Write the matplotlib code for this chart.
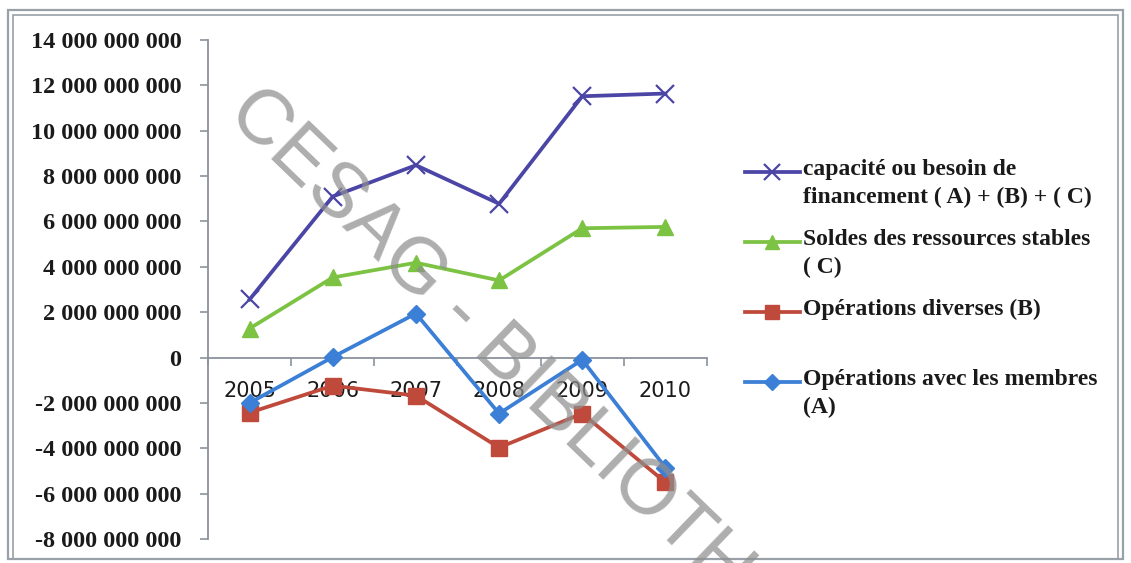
import matplotlib
matplotlib.use("Agg")
import matplotlib.pyplot as plt
import matplotlib.patches as mpatches
from matplotlib.lines import Line2D
from matplotlib.ticker import FuncFormatter, FixedLocator
import numpy as np

years = ["2005", "2006", "2007", "2008", "2009", "2010"]

capacite = [2.56e9, 7.10e9, 8.48e9, 6.78e9, 11.52e9, 11.64e9]
ressources = [1.28e9, 3.53e9, 4.18e9, 3.40e9, 5.70e9, 5.76e9]
diverses = [-2.43e9, -1.24e9, -1.68e9, -3.97e9, -2.47e9, -5.50e9]
membres = [-2.00e9, 0.02e9, 1.94e9, -2.47e9, -0.10e9, -4.85e9]

labels = [
    "capacité ou besoin de\nfinancement ( A) + (B) + ( C)",
    "Soldes des ressources stables\n( C)",
    "Opérations diverses (B)",
    "Opérations avec les membres\n(A)",
]

PURPLE = "#4b45a6"
GREEN = "#7cc243"
RED = "#bf4a3c"
BLUE = "#3b7fd6"
AXIS = "#8a929c"
TEXT = "#1a1a1a"

series = [
    (capacite, PURPLE, "x", 13, 1.6),
    (ressources, GREEN, "^", 12, 0),
    (diverses, RED, "s", 12, 0),
    (membres, BLUE, "D", 9, 0),
]

fig = plt.figure(figsize=(11.31, 5.63), dpi=100, facecolor="white")
ax = fig.add_axes([208 / 1131, 24 / 563, 499 / 1131, 499 / 563])

x = np.arange(len(years))
for vals, col, mk, ms, mew in series:
    ax.plot(x, vals, color=col, linewidth=2.7, marker=mk, markersize=ms,
            markeredgewidth=mew if mew else 1, markeredgecolor=col,
            markerfacecolor=col, solid_joinstyle="round", zorder=3)

ax.set_xlim(-0.5, len(years) - 0.5)
ax.set_ylim(-8e9, 14e9)
ax.set_yticks(np.arange(-8e9, 14.1e9, 2e9))
ax.yaxis.set_major_formatter(FuncFormatter(
    lambda v, p: f"{v:,.0f}".replace(",", " ")))

# category boundaries carry the tick marks, centres carry the labels
ax.xaxis.set_major_locator(FixedLocator(np.arange(-0.5, len(years), 1.0)))
ax.xaxis.set_minor_locator(FixedLocator(x))
ax.set_xticklabels([""] * (len(years) + 1))
ax.set_xticklabels(years, minor=True)
ax.tick_params(axis="x", which="major", direction="out", length=6,
               width=1.2, color=AXIS)
ax.tick_params(axis="x", which="minor", length=0, pad=17,
               labelsize=15, labelcolor=TEXT)
for t in ax.get_xticklabels(minor=True):
    t.set_family("Liberation Sans")

ax.tick_params(axis="y", direction="out", length=6, width=1.2, color=AXIS,
               pad=13, labelsize=17.5, labelcolor=TEXT)
for t in ax.get_yticklabels():
    t.set_family("Liberation Serif")
    t.set_fontweight("bold")

ax.spines["bottom"].set_position(("data", 0))
ax.spines[["top", "right"]].set_visible(False)
for s in ("left", "bottom"):
    ax.spines[s].set_color(AXIS)
    ax.spines[s].set_linewidth(1.3)
ax.set_facecolor("none")

# legend, handle level with the first line of each entry
ly = 1 - 172 / 563
step = 70 / 563
for i, ((vals, col, mk, ms, mew), lab) in enumerate(zip(series, labels)):
    yy = ly - i * step
    fig.add_artist(Line2D([745 / 1131, 800 / 1131], [yy, yy],
                          transform=fig.transFigure, color=col, linewidth=2.7))
    fig.add_artist(Line2D([772 / 1131], [yy], transform=fig.transFigure,
                          marker=mk, markersize=ms * 0.85, color=col,
                          markeredgewidth=mew if mew else 1))
    fig.text(803 / 1131, yy + 13 / 563, lab, ha="left", va="top",
             family="Liberation Serif", fontweight="bold", fontsize=17,
             color=TEXT, linespacing=1.45)

# diagonal watermark
fig.text(240 / 1131, 1 - 100 / 563, "CESAG - BIBLIOTHEQUE", rotation=-44,
         rotation_mode="anchor", ha="left", va="center", fontsize=56,
         family="Liberation Sans", color="#8e8e8e", alpha=0.72, zorder=5)

# double frame round the chart
for pad, lw in ((8, 1.6), (13, 1.2)):
    fig.add_artist(mpatches.Rectangle(
        (pad / 1131, 4 / 563), 1 - 2 * pad / 1131, 1 - (pad + 6) / 563,
        transform=fig.transFigure, fill=False, edgecolor="#9aa0a8",
        linewidth=lw))

fig.savefig("out.png", dpi=100, facecolor="white")
